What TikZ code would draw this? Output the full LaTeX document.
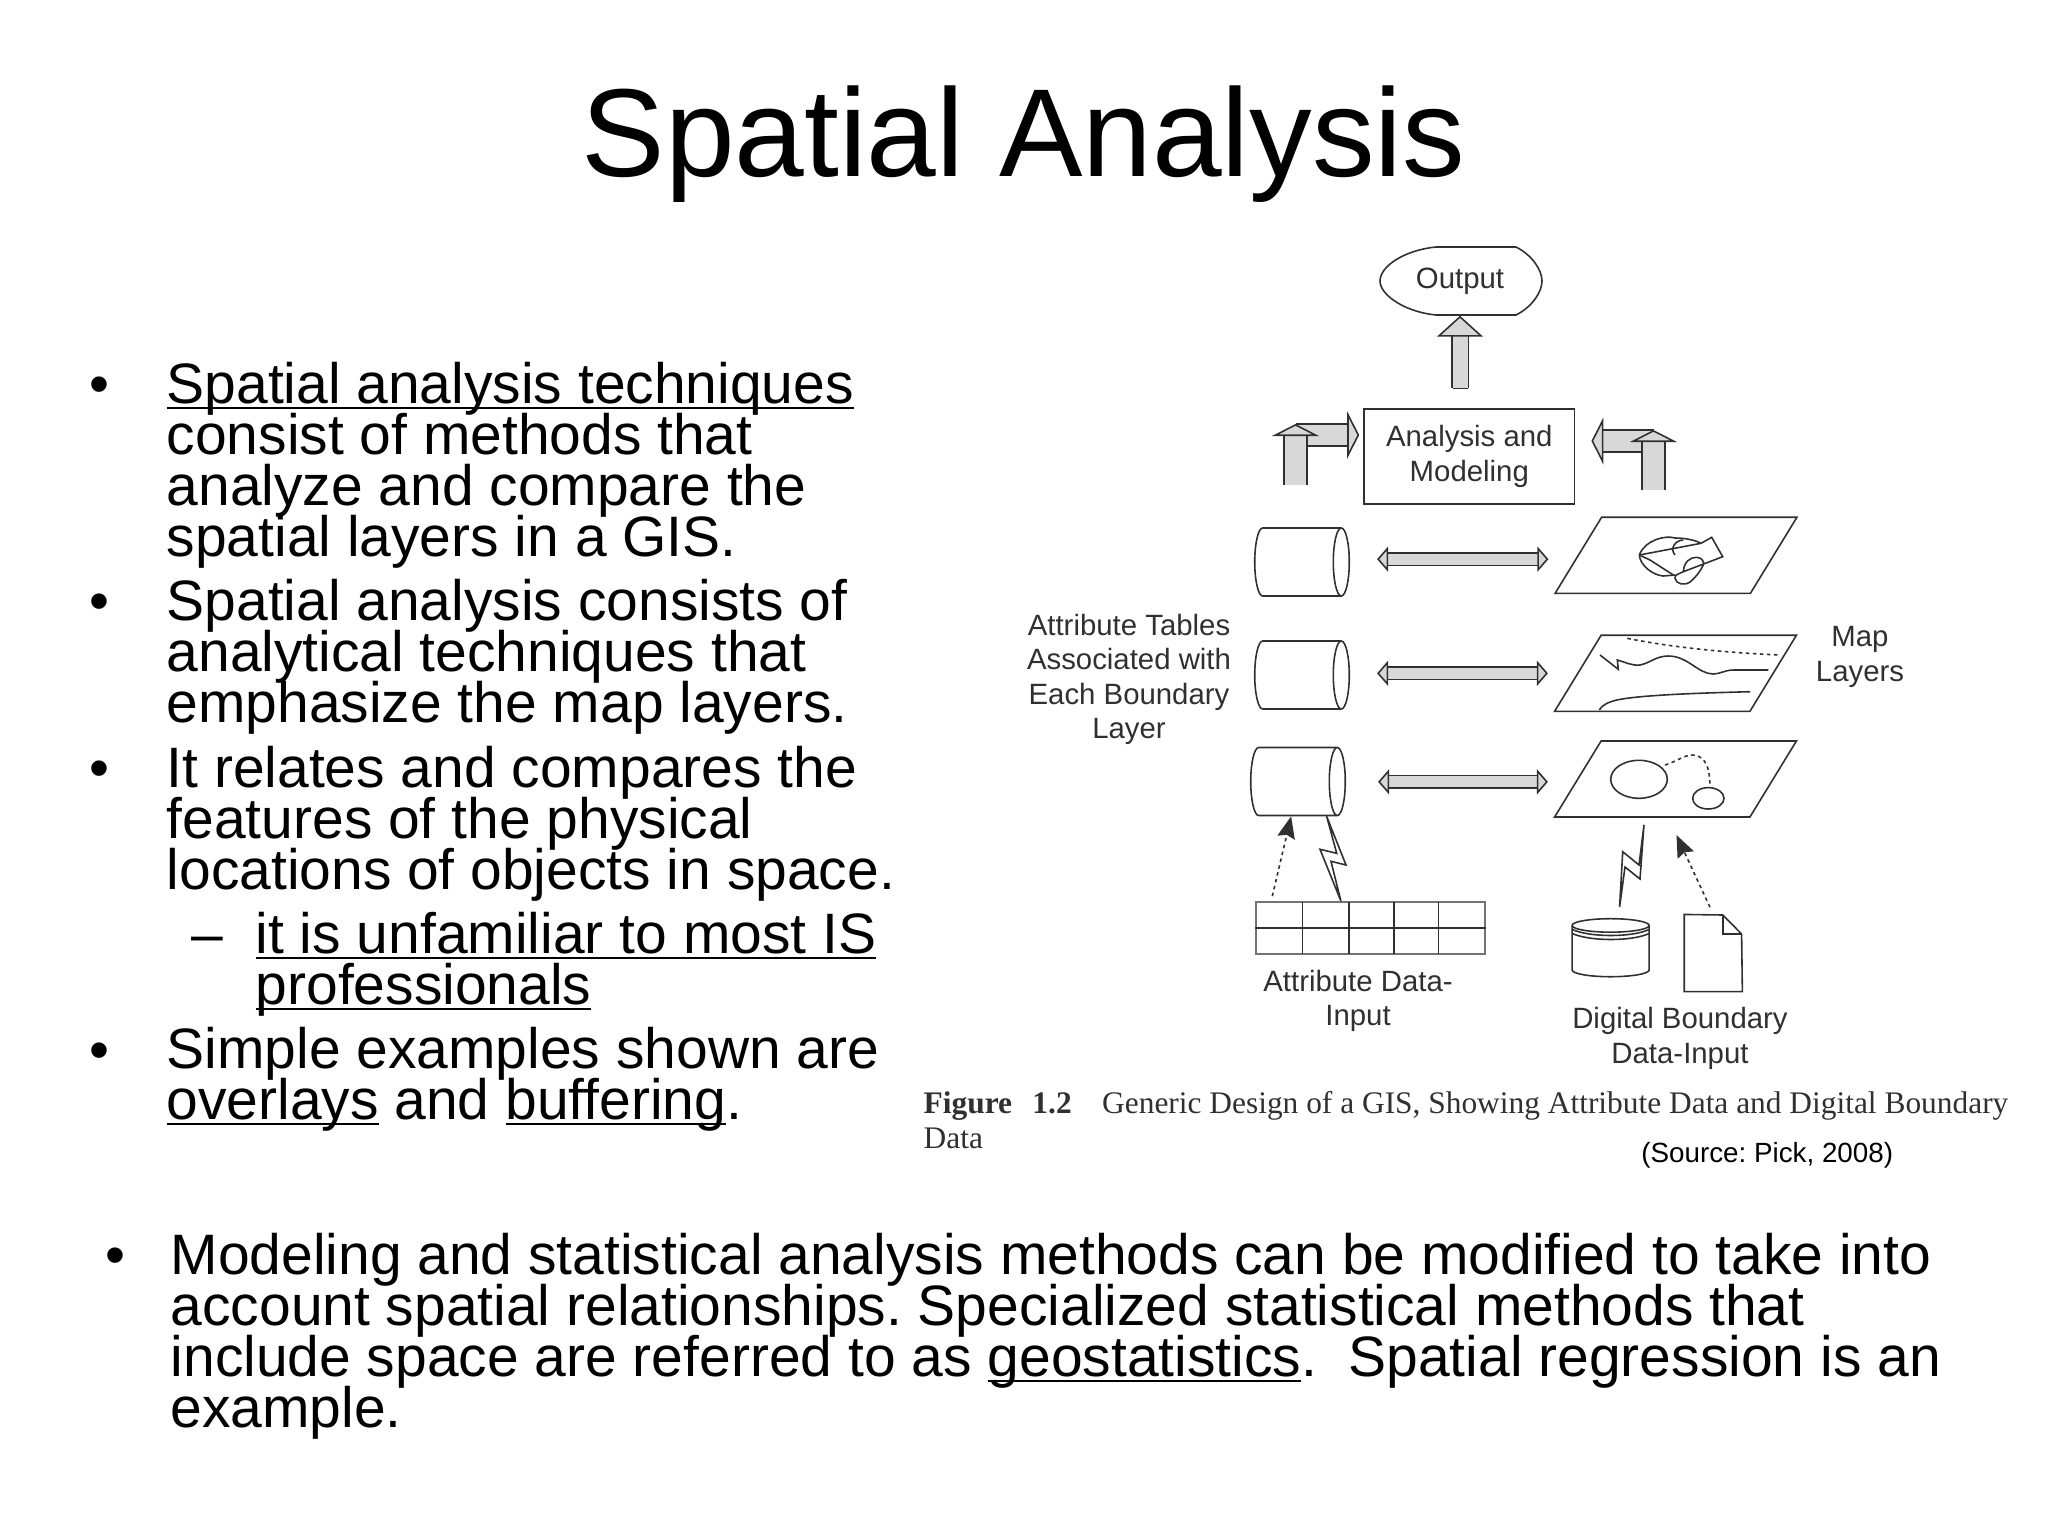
\documentclass[tikz,border=0pt]{standalone}
\usepackage{fontspec}
\usepackage{tikz}
\usetikzlibrary{arrows.meta,shapes.geometric}
\setmainfont{Liberation Sans}
\newfontfamily\capfont{Liberation Serif}
\newcommand{\uline}[1]{\leavevmode\setbox0=\hbox{#1}\rlap{\vrule width\wd0 height -1pt depth 1.65pt}\box0\relax}
\definecolor{boxgray}{HTML}{D8D8D8}
\definecolor{inkgray}{HTML}{303030}
\tikzset{
	line/.style={line width=.45pt,draw=inkgray},
	bodytext/.style={anchor=base west,inner sep=0,align=left,font={\fontsize{16.2}{14.5}\selectfont\lineskiplimit=-20pt\frenchspacing}},
	bullet/.style={anchor=base,inner sep=0,font={\fontsize{16.2}{14.5}\selectfont}},
	label/.style={inner sep=0,align=center,text=inkgray,font={\fontsize{8.35}{9.8}\selectfont\lineskiplimit=-20pt}},
	tabledisk/.style={line,cylinder,anchor=shape center,shape aspect=.235,minimum height=.945cm,minimum width=.68cm,inner xsep=0,inner ysep=.34cm},
	layer/.style={line,trapezium,trapezium left angle=52,trapezium right angle=128,trapezium stretches=true,text width=.5cm,text height=.2cm,text depth=0cm,minimum width=2.42cm,minimum height=.76cm,inner sep=0},
	blockarrow/.style={line width=.45pt,draw=inkgray,double=boxgray,double distance=#1},
	dataarrow/.style={line,dash pattern=on 1pt off 1pt,-{Stealth[length=.22cm,width=.18cm,inset=.03cm,line width=0pt,fill=inkgray]}},
	bolt/.style={line,fill=white,line join=miter},
	upTip/.tip={Triangle[length=.12cm,width=.47cm,line width=.45pt,fill=boxgray]},
	outTip/.tip={Triangle[length=.21cm,width=.46cm,line width=.45pt,fill=boxgray]},
	bothTip/.tip={Triangle[length=.11cm,width=.25cm,line width=.45pt,fill=boxgray]}
}

\begin{document}
\begin{tikzpicture}[x=.01cm,y=-.01cm]
	\useasboundingbox (0,0) rectangle (2048,1536);

	\node [anchor=base,inner sep=0,font=\fontsize{35.6}{36}\selectfont] (title) at (1023.5,176) {Spatial Analysis};

	\node [bullet] (b1) at (99,403) {\textbullet};
	\node [bodytext] (p1) at (166,556) {\uline{Spatial analysis techniques}\\consist of methods that\\analyze and compare the\\spatial layers in a GIS.};
	\node [bullet] (b2) at (99,620) {\textbullet};
	\node [bodytext] (p2) at (166,722) {Spatial analysis consists of\\analytical techniques that\\emphasize the map layers.};
	\node [bullet] (b3) at (99,787) {\textbullet};
	\node [bodytext] (p3) at (166,889) {It relates and compares the\\features of the physical\\locations of objects in space.};
	\node [bullet] (b4) at (207,953) {--};
	\node [bodytext] (p4) at (255,1004) {\uline{it is unfamiliar to most IS}\\\uline{professionals}};
	\node [bullet] (b5) at (99,1069) {\textbullet};
	\node [bodytext] (p5) at (166,1119) {Simple examples shown are\\\uline{overlays} and \uline{buffering}.};
	\node [bullet] (b6) at (115,1274) {\textbullet};
	\node [bodytext] (p6) at (170,1427) {Modeling and statistical analysis methods can be modified to take into\\account spatial relationships. Specialized statistical methods that\\include space are referred to as \uline{geostatistics}.~ Spatial regression is an\\example.};

	\node [label,minimum width=1.62cm,minimum height=.68cm] (output) at (1460,281) {Output};
	\draw [line] (1436,247) -- (1516,247) .. controls (1532,255) and (1542,270) .. (1542,281) .. controls (1542,292) and (1532,307) .. (1516,315) -- (1436,315) .. controls (1405,312) and (1380,295) .. (1380,281) .. controls (1380,266) and (1405,250) .. (1436,247) -- cycle;

	\node [label,line,draw,minimum width=2.105cm,minimum height=.95cm] (analysis) at (1469.3,456.5) {Analysis and\\Modeling};

	\coordinate (leftTurn) at (1295.5,435);
	\coordinate (leftIn) at (1295.5,485);
	\coordinate (leftTop) at (1295.5,424);
	\coordinate (rightTurn) at (1654,441);
	\coordinate (rightIn) at (1653.5,490);
	\coordinate (rightTop) at (1653.5,430);

	\draw [blockarrow=.15cm,{Bar[width=.15cm,line width=.45pt]}-outTip,shorten <=.19cm] (output |- analysis.north) -- (output.south);
	\draw [blockarrow=.2cm,-upTip,shorten >=.04cm] (leftTurn) -- (leftTurn -| analysis.west);
	\draw [blockarrow=.21cm,-upTip] (leftIn) -- (leftTop);
	\draw [blockarrow=.2cm,-upTip,shorten >=.16cm] (rightTurn) -- (rightTurn -| analysis.east);
	\draw [blockarrow=.21cm,-upTip] (rightIn) -- (rightTop);

	\node [tabledisk] (table1) at (1302,562) {};
	\node [tabledisk] (table2) at (1302,675) {};
	\node [tabledisk] (table3) at (1298,781.5) {};

	\node [layer] (layer1) at (1676,555.3) {};
	\node [layer] (layer2) at (1675.5,673.3) {};
	\node [layer] (layer3) at (1675.5,779) {};

	\coordinate (end1) at ([yshift=-1.1pt]layer1.west);
	\coordinate (end3) at ([yshift=-.8pt]layer3.west);

	\draw [blockarrow=.11cm,bothTip-bothTip,shorten <=.27cm,shorten >=.29cm] (table1.east |- end1) -- (end1);
	\draw [blockarrow=.11cm,bothTip-bothTip,shorten <=.27cm,shorten >=.29cm] (table2.east |- layer2.west) -- (layer2.west);
	\draw [blockarrow=.11cm,bothTip-bothTip,shorten <=.32cm,shorten >=.29cm] (table3.east |- end3) -- (end3);

	\draw [line] (1639.3,555) .. controls (1645,540) and (1665,535) .. (1675,538) .. controls (1685,538) and (1695,540) .. (1701,543.3) -- (1711.7,537.3) -- (1722.7,556.7) -- (1683.3,571.7) .. controls (1684,562) and (1690,557) .. (1696.7,557.3) .. controls (1703,558) and (1704,562) .. (1703.3,565) .. controls (1700,572) and (1695,578) .. (1690,582) .. controls (1684,586) and (1676,584) .. (1675,578.3) .. controls (1674,574) and (1680,574) .. (1683.3,571.7);
	\draw [line] (1639.3,555) -- (1701,543.3);
	\draw [line] (1683.3,540) .. controls (1676,540) and (1669,548) .. (1675,555);
	\draw [line] (1639.3,555) .. controls (1640,565) and (1652,575) .. (1663.3,576) -- (1675,575);
	\draw [line] (1639.3,555) -- (1650,560) -- (1673.3,575);

	\draw [line,dash pattern=on 1pt off 1pt] (1627.3,638.3) .. controls (1660,645) and (1710,652) .. (1780,655);
	\draw [line] (1600,655) -- (1618.3,669.3) -- (1617.3,660) .. controls (1625,662) and (1632,666) .. (1640,665) .. controls (1650,663) and (1656,656) .. (1668.3,656) .. controls (1688,656) and (1698,674) .. (1713.3,674) .. controls (1720,674) and (1725,670) .. (1733.3,670) -- (1768.3,670);
	\draw [line] (1599.3,710) .. controls (1604,703) and (1610,702) .. (1616.7,700) .. controls (1640,695) and (1700,693) .. (1750,691.7);

	\draw [line] (1639,779.3) ellipse [x radius=28.3,y radius=19];
	\draw [line] (1708.3,798.3) ellipse [x radius=15.7,y radius=10.7];
	\draw [line,dash pattern=on 1pt off 1pt] (1665,765) .. controls (1675,762) and (1685,755) .. (1691.7,755) .. controls (1702,755) and (1710,762) .. (1710,786.7);

	\node [line,draw=black!55,minimum width=2.29cm,minimum height=.52cm,inner sep=0] (attrtable) at (1370.5,927.8) {};
	\draw [line] (attrtable.west) -- (attrtable.east);
	\draw [line] (1302.3,901.7) -- (1302.3,954);
	\draw [line] (1348.7,901.7) -- (1348.7,954);
	\draw [line] (1393.7,901.7) -- (1393.7,954);
	\draw [line] (1438.3,901.7) -- (1438.3,954);

	\draw [dataarrow,shorten <=.05cm] ([xshift=.16cm]attrtable.north west) -- ([xshift=.015cm]table3.south);
	\draw [bolt] ([xshift=.37cm]table3.south) -- (1346,865) -- (1331,861.3) -- ([xshift=.857cm]attrtable.north west) -- (1320,849.3) -- (1336.7,853.3) -- cycle;

	\node [line,cylinder,anchor=shape center,shape border rotate=90,shape aspect=.175,minimum width=.77cm,minimum height=.58cm,inner xsep=.385cm,inner ysep=0] (digitdb) at (1610.6,947.7) {};
	\draw [line] (1572.3,929.5) .. controls (1590,937.5) and (1632,937.5) .. (1649,929.5);
	\draw [line] (1572.3,933.5) .. controls (1590,941.5) and (1632,941.5) .. (1649,933.5);

	\node [minimum width=.567cm,minimum height=.757cm,inner sep=0] (digitdoc) at (1713.3,953) {};
	\draw [line] (digitdoc.south west) -- (digitdoc.north west) -- (1722.7,915) -- (1741.6,934) -- (digitdoc.south east) -- cycle;
	\draw [line] (1722.7,915) -- (1722.7,934) -- (1741.6,934);

	\draw [bolt] ([shift={(-.315cm,-.07cm)}]layer3.south) -- (1640,879) -- (1625,867) -- ([shift={(.09cm,.11cm)}]digitdb.north) -- (1622.7,851.7) -- (1639,865) -- cycle;
	\draw [dataarrow,shorten <=.08cm,shorten >=.19cm] (digitdoc.north) -- ([xshift=-.07cm]layer3.south);

	\node [label] (tablesLabel) at (1129,679.5) {Attribute Tables\\Associated with\\Each Boundary\\Layer};
	\node [label] (layersLabel) at (1860,657) {Map\\Layers};
	\node [label] (attrLabel) at (1358,1001) {Attribute Data-\\Input};
	\node [label] (boundaryLabel) at (1680,1038.5) {Digital Boundary\\Data-Input};

	\node [anchor=base west,inner sep=0,align=left,text=inkgray,font={\capfont\fontsize{8.93}{9.9}\selectfont}] (figcaption) at (923,1148) {\textbf{Figure\hspace{.65em}1.2}\hspace{.97em}Generic Design of a GIS, Showing Attribute Data and Digital Boundary\\Data};
	\node [anchor=base west,inner sep=0,font=\fontsize{7.9}{9}\selectfont\frenchspacing] (source) at (1640.7,1162) {(Source: Pick, 2008)};
\end{tikzpicture}
\end{document}
